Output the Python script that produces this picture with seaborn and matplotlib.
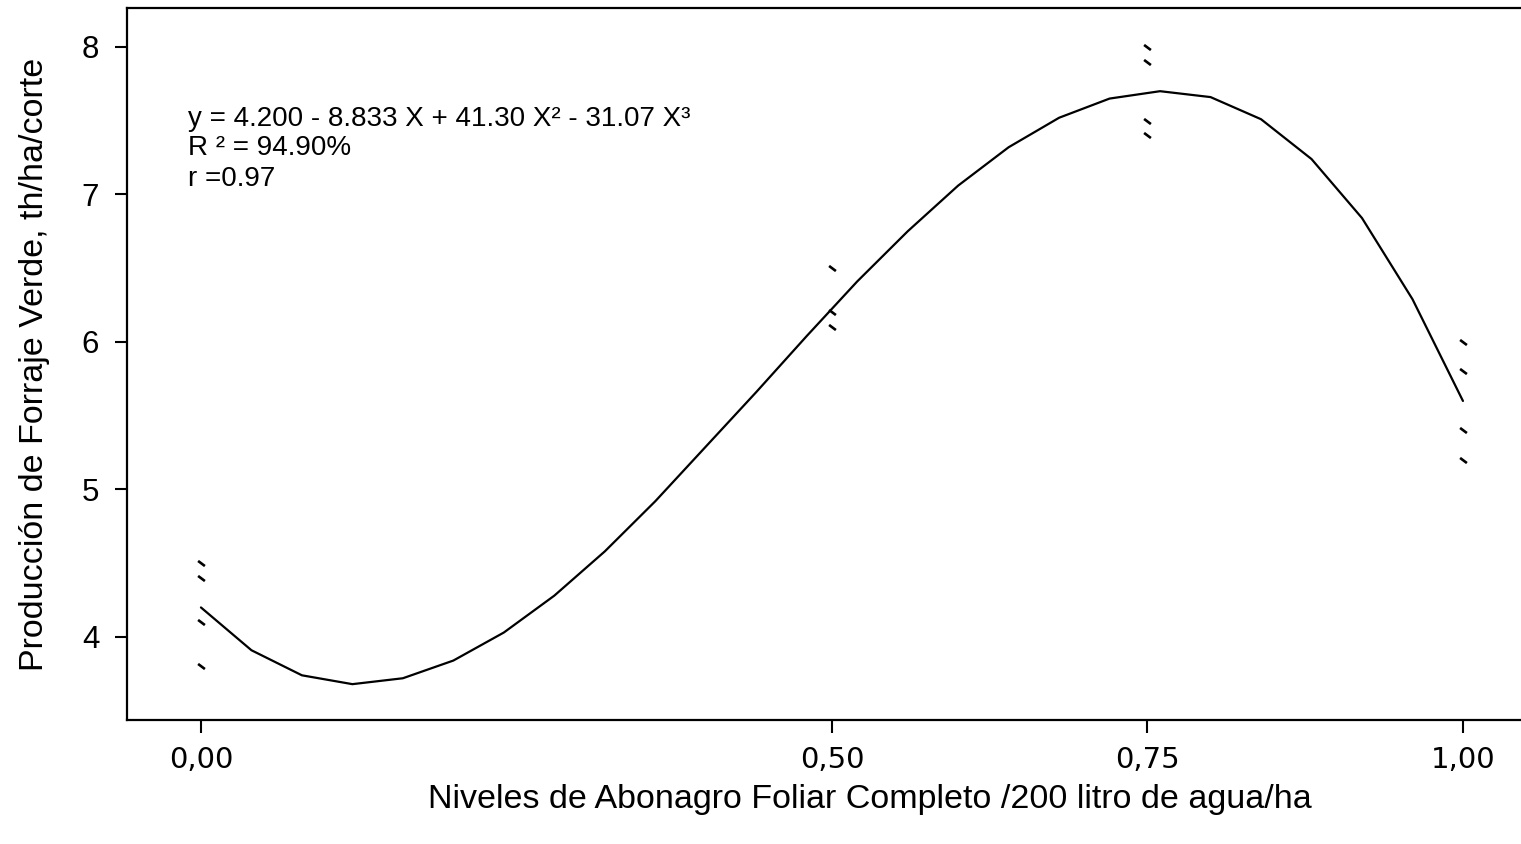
import matplotlib
matplotlib.use("Agg")
import matplotlib.pyplot as plt
import seaborn as sns
import pandas as pd
from matplotlib.path import Path

# ---- data ----
obs_x = [0.0, 0.0, 0.0, 0.0,
         0.5, 0.5, 0.5,
         0.75, 0.75, 0.75, 0.75,
         1.0, 1.0, 1.0, 1.0]
obs_y = [4.5, 4.4, 4.1, 3.8,
         6.5, 6.2, 6.1,
         8.0, 7.9, 7.5, 7.4,
         6.0, 5.8, 5.4, 5.2]

fit_x = [0.00, 0.04, 0.08, 0.12, 0.16, 0.20, 0.24, 0.28, 0.32, 0.36, 0.40,
         0.44, 0.48, 0.52, 0.56, 0.60, 0.64, 0.68, 0.72, 0.76, 0.80, 0.84,
         0.88, 0.92, 0.96, 1.00]
fit_y = [4.20, 3.91, 3.74, 3.68, 3.72, 3.84, 4.03, 4.28, 4.58, 4.92, 5.29,
         5.66, 6.04, 6.41, 6.75, 7.06, 7.32, 7.52, 7.65, 7.70, 7.66, 7.51,
         7.24, 6.84, 6.29, 5.60]

x_ticks = [0.0, 0.5, 0.75, 1.0]
x_tick_labels = ["0,00", "0,50", "0,75", "1,00"]
y_ticks = [4, 5, 6, 7, 8]

eq_lines = ["y = 4.200 - 8.833 X + 41.30 X² - 31.07 X³",
            "R ² = 94.90%",
            "r =0.97"]

x_label = "Niveles de Abonagro Foliar Completo /200 litro de agua/ha"
y_label = "Producción de Forraje Verde, th/ha/corte"

# ---- style ----
sns.set_style("ticks")
plt.rcParams["font.family"] = ["Liberation Sans", "DejaVu Sans"]

fig = plt.figure(figsize=(15.21, 8.44), dpi=100)
ax = fig.add_axes([127 / 1521, 1 - 720 / 844, 1 - 127 / 1521, (720 - 8) / 844])

df_obs = pd.DataFrame({"x": obs_x, "y": obs_y})
df_fit = pd.DataFrame({"x": fit_x, "y": fit_y})

sns.lineplot(data=df_fit, x="x", y="y", ax=ax, color="black", linewidth=1.6,
             sort=False, estimator=None)

dash = Path([(-1.0, 0.75), (1.0, -0.75)], [Path.MOVETO, Path.LINETO])
sns.scatterplot(data=df_obs, x="x", y="y", ax=ax, marker=dash, s=24,
                color="black", edgecolor="black", linewidth=1.9, zorder=3)

ax.set_xlim(-0.0586, 1.046)
ax.set_ylim(3.437, 8.264)

ax.set_xticks(x_ticks)
ax.set_xticklabels(x_tick_labels, family=["DejaVu Sans"], fontsize=21)
ax.set_yticks(y_ticks)
ax.tick_params(axis="both", length=9, width=1.5, color="black",
               labelcolor="black", direction="out")
ax.tick_params(axis="y", labelsize=22.5, pad=11)
ax.tick_params(axis="x", pad=10)

for side in ["left", "bottom", "top"]:
    ax.spines[side].set_visible(True)
    ax.spines[side].set_linewidth(1.6)
    ax.spines[side].set_color("black")
ax.spines["right"].set_visible(False)

ax.set_xlabel(x_label, fontsize=24.5, va="center", color="black")
ax.set_ylabel(y_label, fontsize=24.5, va="center", color="black")
ax.xaxis.set_label_coords(0.533, -0.111)
ax.yaxis.set_label_coords(-0.066, 0.499)

eq_y = [7.51, 7.315, 7.105]
for txt, yy in zip(eq_lines, eq_y):
    ax.text(-0.0103, yy, txt, fontsize=20, ha="left", va="center",
            color="black")

fig.savefig("out.png", dpi=100)
